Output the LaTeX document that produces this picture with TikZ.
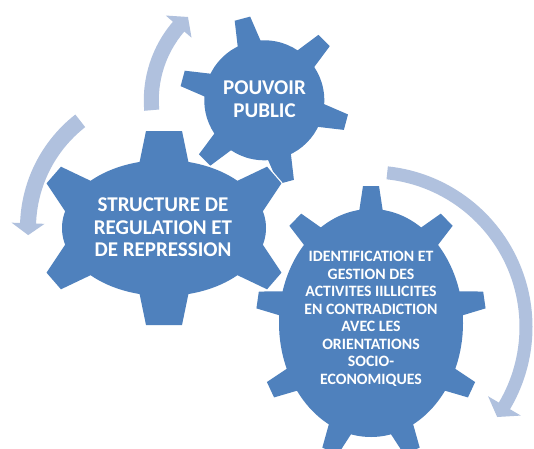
\documentclass[tikz,border=0pt]{standalone}
\usepackage{fontspec}
\setmainfont{Carlito}
\definecolor{gearblue}{RGB}{79,129,189}
\definecolor{arrowblue}{RGB}{176,193,222}
\newcommand{\gtooth}[8]{%
  \pgfmathsetmacro{\gpx}{#1+#3*cos(#5)}%
  \pgfmathsetmacro{\gpy}{#2+#4*sin(#5)}%
  \pgfmathsetmacro{\gph}{atan2(#3*sin(#5),#4*cos(#5))}%
  \pgfmathsetmacro{\gwbe}{#8+(#8-#7)*6/#6}%
  \path[gpart, shift={(\gpx,\gpy)}, rotate=\gph] (-6,-\gwbe) -- (#6,-#7) -- (#6,#7) -- (-6,\gwbe) -- cycle;%
}
\newcommand{\gearshape}[6]{%
  \path[gpart] (#1,#2) ellipse[x radius=#3pt, y radius=#4pt];%
  \foreach \gt/\gwt/\gwbb in #6 {\gtooth{#1}{#2}{#3}{#4}{\gt}{#5}{\gwt}{\gwbb}}%
}
\newcommand{\cirarrow}[8]{%
  \pgfmathsetmacro{\aro}{#3+#4}%
  \pgfmathsetmacro{\ari}{#3-#4}%
  \pgfmathsetmacro{\abo}{#3+#7}%
  \pgfmathsetmacro{\abi}{#3-#7}%
  \fill[arrowblue, shift={(#1,#2)}] (#5:\aro pt) arc[start angle=#5, end angle=#6, radius=\aro pt]
    -- (#6:\abo pt) -- (#8:#3pt) -- (#6:\abi pt) -- (#6:\ari pt)
    arc[start angle=#6, end angle=#5, radius=\ari pt] -- cycle;%
}
\def\teethR{90/8/11.5, 50/8.5/12, 10/8.5/12, -30/8.5/12, -70/8.5/12, -110/8.5/12, -150/8.5/12, 170/8.5/12, 130/8.5/12}
\def\teethT{105/8/11.6, 45/8/11.6, -15/8/11.6, -75/8/11.6, -135/8/11.6, 165/8/11.6}
\def\teethL{90/18/24, 30/11/19, -30/11/19, -90/18/24, -150/11/19, 150/11/19}
\tikzset{
  halo/.style={gpart/.style={draw=white, fill=white, line width=2.5pt, line join=round}},
  solid gear/.style={gpart/.style={fill=gearblue}},
  gtext/.style={text=white, align=center, inner sep=0pt}
}
\begin{document}
\begin{tikzpicture}[x=1pt, y=1pt]
\clip (0,0) rectangle (534,448);
\fill[white] (0,0) rectangle (534,448);
% circular arrows
\cirarrow{264.3}{347.7}{113}{7.5}{185}{139.3}{17}{132.5}
\cirarrow{164}{220}{136}{8}{128}{178}{16.5}{183}
\cirarrow{371}{121}{155}{6.5}{84}{-30.6}{19}{-35.5}
% right gear
\begin{scope}[halo]\gearshape{371}{125}{92}{114}{23}{\teethR}\end{scope}
\begin{scope}[solid gear]\gearshape{371}{125}{92}{114}{23}{\teethR}\end{scope}
% top gear
\begin{scope}[halo]\gearshape{264.3}{347.7}{60}{60}{24.5}{\teethT}\end{scope}
\begin{scope}[solid gear]\gearshape{264.3}{347.7}{60}{60}{24.5}{\teethT}\end{scope}
% left gear
\begin{scope}[halo]\gearshape{164}{220}{102}{68}{29}{\teethL}\end{scope}
\begin{scope}[solid gear]\gearshape{164}{220}{102}{68}{29}{\teethL}\end{scope}
% texts
\node[gtext, font=\fontsize{21pt}{22.5pt}\selectfont\bfseries] (tL) at (163,220.5) {STRUCTURE DE\\REGULATION ET\\DE REPRESSION};
\node[gtext, font=\fontsize{21pt}{23.3pt}\selectfont\bfseries] (tT) at (264.5,348.7) {POUVOIR\\PUBLIC};
\node[gtext, font=\fontsize{15.8pt}{17.5pt}\selectfont\bfseries] (tR) at (371,129.3) {IDENTIFICATION ET\\GESTION DES\\ACTIVITES IILLICITES\\EN CONTRADICTION\\AVEC LES\\ORIENTATIONS\\SOCIO-\\ECONOMIQUES};
\end{tikzpicture}
\end{document}
